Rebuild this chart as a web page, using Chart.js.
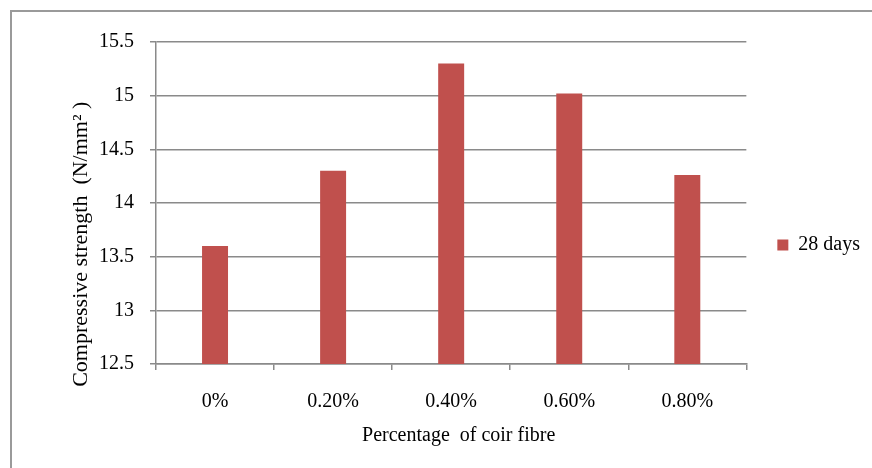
<!DOCTYPE html>
<html>
<head>
<meta charset="utf-8">
<script src="https://cdn.jsdelivr.net/npm/chart.js@4"></script>
<style>
  body { margin: 0; background: #fff; }
  #wrap { position: relative; width: 872px; height: 468px; }
  #frame { position: absolute; left: 10px; top: 10px; right: 0; bottom: 0; border-left: 2px solid #9a9a9a; border-top: 2px solid #9a9a9a; }
  canvas { position: absolute; left: 0; top: 0; }
</style>
</head>
<body>
<div id="wrap">
  <div id="frame"></div>
  <canvas id="myChart" width="872" height="468"></canvas>
</div>
<script>
// DATA
const categories = ["0%", "0.20%", "0.40%", "0.60%", "0.80%"];
const strength28 = [13.6, 14.3, 15.3, 15.02, 14.26];
const yTicks = [12.5, 13, 13.5, 14, 14.5, 15, 15.5];

const gridGray = "#8a8a8a";
const serif = "'Liberation Serif', 'Times New Roman', serif";
const font = { family: serif, size: 20 };

// CONFIG
const config = {
    type: "bar",
    data: {
        labels: categories,
        datasets: [
            {
                label: "28 days",
                data: strength28,
                backgroundColor: "#C0504D",
                barPercentage: 0.22,
                categoryPercentage: 1,
            },
        ],
    },
    options: {
        responsive: false,
        animation: false,
        layout: {
            padding: { left: 68, top: 42, right: 2, bottom: 20 },
        },
        scales: {
            x: {
                afterFit: (axis) => {
                    axis.height = 84;
                },
                grid: {
                    offset: true,
                    drawOnChartArea: false,
                    drawTicks: true,
                    tickLength: 6,
                    color: gridGray,
                    lineWidth: 1.5,
                },
                border: { color: gridGray, width: 1.5 },
                ticks: { color: "#000", font: font, padding: 20 },
                title: {
                    display: true,
                    // leading spaces nudge the title right like the original
                    text: "   Percentage  of coir fibre",
                    color: "#000",
                    font: font,
                    padding: { top: 10, bottom: 0 },
                },
            },
            y: {
                min: 12.5,
                max: 15.5,
                afterBuildTicks: (axis) => {
                    axis.ticks = yTicks.map((v) => ({ value: v }));
                },
                afterFit: (axis) => {
                    axis.width = 88;
                },
                grid: {
                    color: gridGray,
                    lineWidth: 1.5,
                    tickLength: 6,
                },
                border: { color: gridGray, width: 1.5 },
                ticks: {
                    color: "#000",
                    font: font,
                    padding: 16,
                    callback: (v) => String(v),
                },
                title: {
                    display: true,
                    // trailing spaces push the title down toward the page centre
                    text: "Compressive strength  (N/mm² )               ",
                    color: "#000",
                    font: { family: serif, size: 22 },
                    padding: { top: 0, bottom: 0 },
                },
            },
        },
        plugins: {
            legend: {
                position: "right",
                labels: {
                    color: "#000",
                    font: font,
                    boxWidth: 11,
                    boxHeight: 11,
                    padding: 31,
                },
            },
            tooltip: { enabled: false },
        },
    },
};

const myChart = new Chart(document.getElementById("myChart"), config);
</script>
</body>
</html>
